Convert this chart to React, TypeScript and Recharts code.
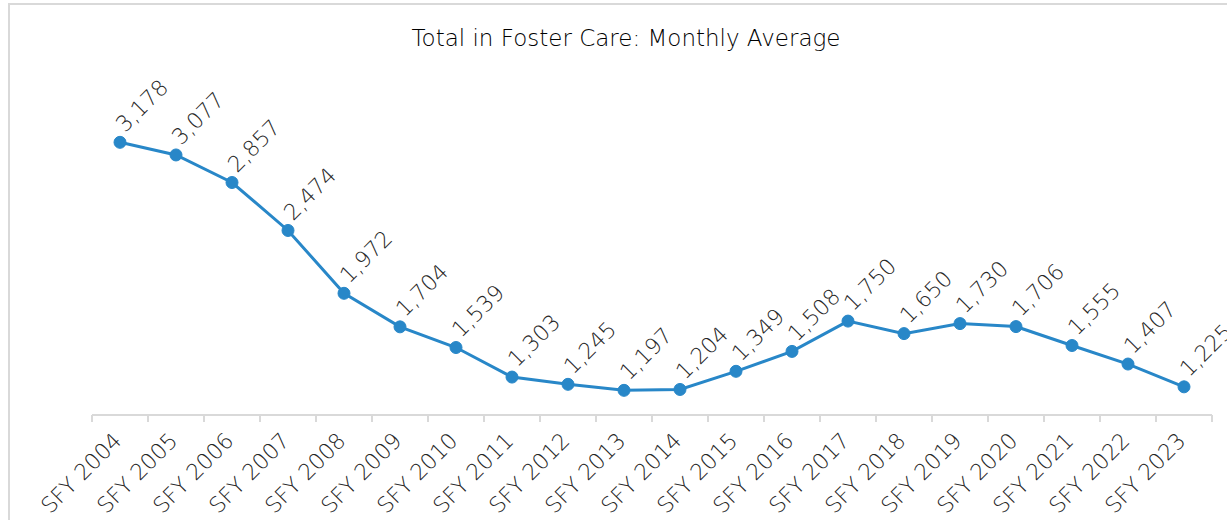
import { LineChart, Line, XAxis, YAxis, LabelList } from "recharts";

const years = [
    "SFY 2004", "SFY 2005", "SFY 2006", "SFY 2007", "SFY 2008",
    "SFY 2009", "SFY 2010", "SFY 2011", "SFY 2012", "SFY 2013",
    "SFY 2014", "SFY 2015", "SFY 2016", "SFY 2017", "SFY 2018",
    "SFY 2019", "SFY 2020", "SFY 2021", "SFY 2022", "SFY 2023",
];
const totals = [
    3178, 3077, 2857, 2474, 1972, 1704, 1539, 1303, 1245, 1197,
    1204, 1349, 1508, 1750, 1650, 1730, 1706, 1555, 1407, 1225,
];
const yDomain = [1000, 3500];

// category i sits in the middle of the slot [i, i+1], tick marks on the slot edges
const data = years.map((year, i) => ({ pos: i + 0.5, year, total: totals[i] }));
const xTicks = Array.from({ length: years.length * 2 + 1 }, (_, i) => i / 2);

const FONT = "'DejaVu Sans', sans-serif";
const BLUE = "#2887c8";
const TEXT = "#262626";

const EdgeTick = (props: any) => {
    const { x, y, payload } = props;
    const v = payload.value as number;
    if (Number.isInteger(v)) {
        return <line x1={x} y1={y - 8} x2={x} y2={y - 1} stroke="#d9d9d9" strokeWidth={2} />;
    }
    const tx = x + 3;
    const ty = y + 19;
    return (
        <text x={tx} y={ty} transform={`rotate(-45 ${tx} ${ty})`} textAnchor="end"
              fontFamily={FONT} fontWeight={300} fontSize={22} fill={TEXT}>
            {years[Math.floor(v)]}
        </text>
    );
};

const ValueLabel = (props: any) => {
    const { x, y, value } = props;
    const tx = x + 5;
    const ty = y - 9;
    return (
        <text x={tx} y={ty} transform={`rotate(-45 ${tx} ${ty})`}
              fontFamily={FONT} fontWeight={300} fontSize={22} fill={TEXT}>
            {Number(value).toLocaleString("en-US")}
        </text>
    );
};

export default function App() {
    return (
        <div style={{ position: "fixed", left: 0, top: 0, width: 1227, height: 520, overflow: "hidden", background: "#fff" }}>
            <div style={{ position: "absolute", left: 8, top: 3, width: 1250, height: 560,
                          border: "2px solid #d9d9d9", boxSizing: "border-box" }}>
                <div style={{ position: "absolute", left: 0, top: 22, width: 1232, textAlign: "center",
                              fontFamily: FONT, fontWeight: 300, fontSize: 23, lineHeight: "23px", color: "#000" }}>
                    Total in Foster Care: Monthly Average
                </div>
                <LineChart width={1236} height={540} data={data}
                           margin={{ top: 97, right: 34, bottom: 70, left: 82 }}
                           style={{ position: "absolute", left: 0, top: 0 }}>
                    <XAxis dataKey="pos" type="number" domain={[0, years.length]} ticks={xTicks} interval={0}
                           height={60} tickLine={false} axisLine={{ stroke: "#d9d9d9", strokeWidth: 2 }}
                           tick={<EdgeTick />} />
                    <YAxis hide domain={yDomain} allowDataOverflow />
                    <Line dataKey="total" stroke={BLUE} strokeWidth={3}
                          dot={{ r: 6, fill: BLUE, stroke: BLUE, strokeWidth: 1 }}
                          isAnimationActive={false}>
                        <LabelList dataKey="total" content={<ValueLabel />} />
                    </Line>
                </LineChart>
            </div>
        </div>
    );
}
